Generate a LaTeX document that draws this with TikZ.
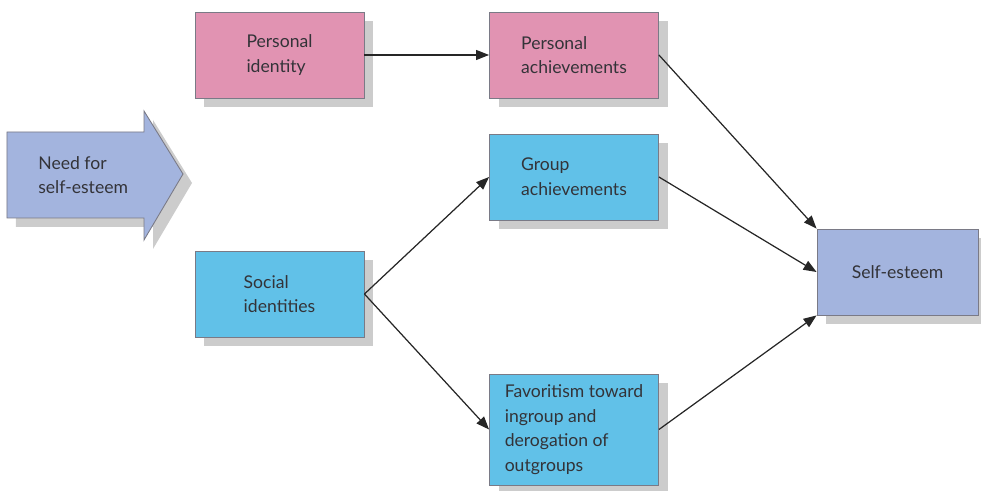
\documentclass[tikz,border=0pt]{standalone}
\usepackage{fontspec}
\setmainfont{Lato}
\usetikzlibrary{positioning,shadows,arrows.meta}
\definecolor{pinkbox}{HTML}{E193B2}
\definecolor{cyanbox}{HTML}{61C1E8}
\definecolor{bluebox}{HTML}{A3B4DE}
\definecolor{boxline}{HTML}{7A7A86}
\definecolor{textgray}{HTML}{333338}
\tikzset{
	flatshadow/.style={drop shadow={shadow xshift=0.18cm, shadow yshift=-0.18cm, fill=black!20, opacity=1}},
	box/.style={draw=boxline, line width=0.5pt, fill=#1, minimum width=3.38cm, minimum height=1.72cm,
		align=left, text=textgray, font=\fontsize{10}{14}\selectfont, flatshadow},
	link/.style={-{Triangle[length=0.26cm,width=0.2cm]}, line width=0.7pt, draw=black!85}
}
\begin{document}
\begin{tikzpicture}[node distance=5.89cm]
			\useasboundingbox (0,0) rectangle (19.62,-9.82);
			% need for self-esteem
			\draw[draw=boxline, line width=0.5pt, fill=bluebox, flatshadow]
				(0.14,-2.64) -- (2.88,-2.64) -- (2.88,-2.22) -- (3.66,-3.48) -- (2.88,-4.80) -- (2.88,-4.36) -- (0.14,-4.36) -- cycle;
			\node(Need)	[anchor=west, align=left, inner sep=0pt, text=textgray, font=\fontsize{10}{14}\selectfont] at (0.76,-3.50) {Need for\\self-esteem};
			% boxes
			\node(PersId)		[box=pinkbox] at (5.59,-1.10)	{Personal\\identity};
			\node(PersAch)		[box=pinkbox, right of=PersId]		{Personal\\achievements};
			\node(GroupAch)		[box=cyanbox, below of=PersAch, node distance=2.44cm]	{Group\\achievements};
			\node(SocId)		[box=cyanbox, below of=PersId, node distance=4.78cm]	{Social\\identities};
			\node(Favor)		[box=cyanbox, below of=GroupAch, node distance=5.05cm, minimum height=2.22cm]	{Favoritism toward\\ingroup and\\derogation of\\outgroups};
			\node(SelfEst)		[box=bluebox, minimum width=3.22cm] at (17.95,-5.44)	{Self-esteem};
			% arrows
			\draw[link](PersId.east)      -- (PersAch.west);
			\draw[link](SocId.east)      -- (GroupAch.west);
			\draw[link](SocId.east)      -- (Favor.west);
			\draw[link](PersAch.east)      -- (SelfEst.north west);
			\draw[link](GroupAch.east)      -- (SelfEst.west);
			\draw[link](Favor.east)      -- (SelfEst.south west);
		\end{tikzpicture}
\end{document}
